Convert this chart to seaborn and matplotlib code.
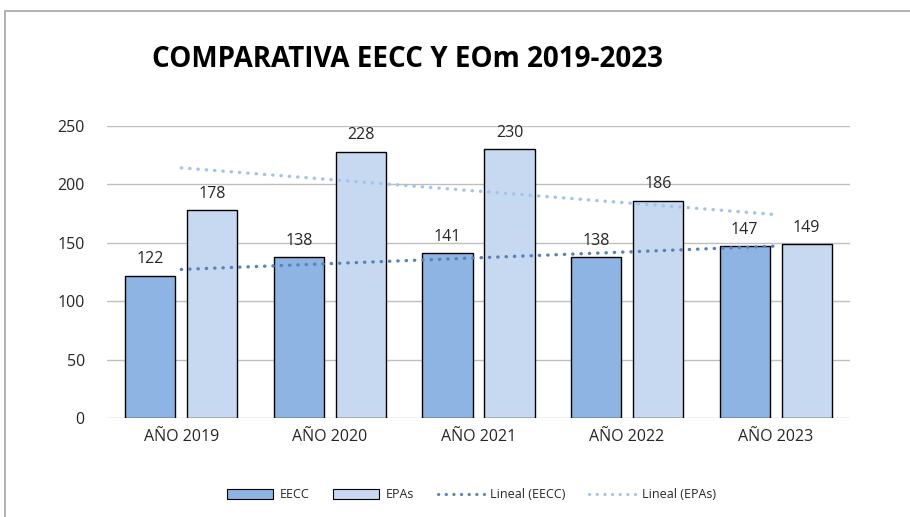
import numpy as np
import pandas as pd
import matplotlib
matplotlib.use("Agg")
import matplotlib.pyplot as plt
import seaborn as sns
from matplotlib.patches import Rectangle, Patch
from matplotlib.lines import Line2D

# datos
anios = ["AÑO 2019", "AÑO 2020", "AÑO 2021", "AÑO 2022", "AÑO 2023"]
eecc = [122, 138, 141, 138, 147]
epas = [178, 228, 230, 186, 149]
series = ["EECC", "EPAs"]
yticks = [0, 50, 100, 150, 200, 250]

col_eecc = "#8EB4E3"
col_epas = "#C6D9F1"
col_tr_eecc = "#5A80B8"
col_tr_epas = "#A2C4E8"

df = pd.DataFrame({
    "anio": anios * 2,
    "valor": eecc + epas,
    "serie": ["EECC"] * len(anios) + ["EPAs"] * len(anios),
})

sns.set_theme(style="white")
plt.rcParams["font.family"] = ["Open Sans", "DejaVu Sans"]

fig = plt.figure(figsize=(9.1, 5.17), dpi=100)
ax = fig.add_axes([0.1176, 0.1915, 0.8164, 0.5647])

sns.barplot(data=df, x="anio", y="valor", hue="serie", hue_order=series,
            palette=[col_eecc, col_epas], saturation=1, width=0.834, gap=0.19,
            edgecolor="black", linewidth=1.0, legend=False, ax=ax, zorder=3)

# etiquetas de valor
for cont in ax.containers:
    ax.bar_label(cont, padding=6, fontsize=11.5, color="#262626")

# lineas de tendencia (regresion lineal)
dots = (0, (0.1, 2.4))
x = np.arange(len(anios))
for vals, col in [(eecc, col_tr_eecc), (epas, col_tr_epas)]:
    m, b = np.polyfit(x, vals, 1)
    ax.plot(x, m * x + b, color=col, linestyle=dots, linewidth=2.4,
            zorder=4, dash_capstyle="round")

ax.set_ylim(0, 250)
ax.set_xlim(-0.5, len(anios) - 0.5)
ax.set_yticks(yticks)
ax.yaxis.grid(True, color="#BFBFBF", linewidth=1)
ax.set_axisbelow(True)
for s in ax.spines.values():
    s.set_visible(False)
ax.set_xlabel("")
ax.set_ylabel("")
ax.tick_params(axis="both", length=0, labelsize=11.5, labelcolor="#262626")
ax.tick_params(axis="y", pad=16)
ax.tick_params(axis="x", pad=8)

fig.text(0.448, 0.884, "COMPARATIVA EECC Y EOm 2019-2023", ha="center", va="center",
         fontsize=20, fontweight="bold", color="black")

handles = [
    Patch(facecolor=col_eecc, edgecolor="black", linewidth=0.8),
    Patch(facecolor=col_epas, edgecolor="black", linewidth=0.8),
    Line2D([0], [0], color=col_tr_eecc, linestyle=dots, linewidth=2.2,
           dash_capstyle="round"),
    Line2D([0], [0], color=col_tr_epas, linestyle=dots, linewidth=2.2,
           dash_capstyle="round"),
]
fig.legend(handles, ["EECC", "EPAs", "Lineal (EECC)", "Lineal (EPAs)"],
           loc="center", bbox_to_anchor=(0.518, 0.043), ncol=4, frameon=False,
           fontsize=9, handlelength=3.7, handleheight=0.8, columnspacing=1.9,
           handletextpad=0.5)

fig.patches.append(Rectangle((5 / 910, -0.1), 1.2, 1 - 11 / 517 + 0.1,
                             transform=fig.transFigure, fill=False,
                             edgecolor="#A6A6A6", linewidth=1.2))

fig.savefig("out.png", dpi=100)
